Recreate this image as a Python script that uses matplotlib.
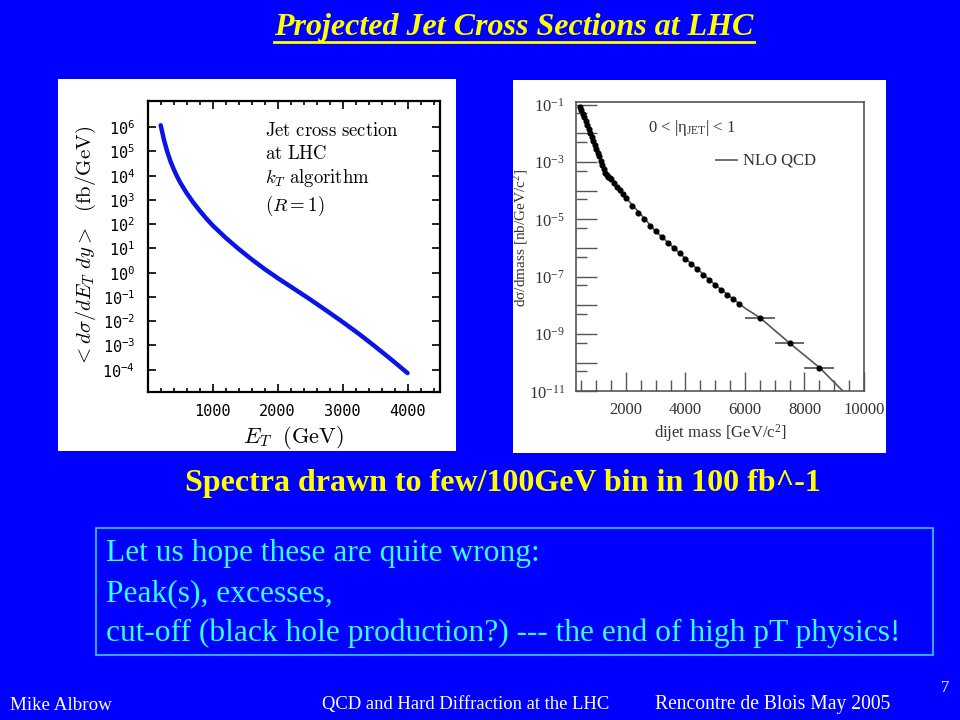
import matplotlib

matplotlib.use("Agg")
import matplotlib.pyplot as plt
from matplotlib.lines import Line2D
from matplotlib.patches import Rectangle
from matplotlib.ticker import FixedLocator, FuncFormatter, MultipleLocator, LogLocator, NullFormatter
import numpy as np

# left panel: theory curve, jet cross section vs E_T (log10 fb/GeV)
et_gev = [200, 250, 300, 350, 400, 450, 500, 600, 700, 800, 900, 1000, 1200,
          1400, 1600, 1800, 2000, 2250, 2500, 2750, 3000, 3250, 3500, 3750, 4000]
et_log_xs = [6.08, 5.48, 5.00, 4.60, 4.27, 3.98, 3.72, 3.28, 2.90, 2.56, 2.24,
             1.95, 1.44, 0.98, 0.55, 0.15, -0.22, -0.66, -1.10, -1.56, -2.03,
             -2.52, -3.04, -3.58, -4.14]

# right panel: dijet mass spectrum points (log10 nb/GeV/c^2)
mjj_pts = [450, 500, 550, 600, 650, 700, 750, 800, 850, 900, 950, 1000, 1050,
           1100, 1150, 1200, 1250, 1300, 1350, 1400, 1450, 1500, 1600, 1700,
           1800, 1900, 2000, 2200, 2400, 2600, 2800, 3000, 3200, 3400, 3600,
           3800, 4000, 4200, 4400, 4600, 4800, 5000, 5200, 5400, 5600, 5800]
mjj_log_xs = [-1.10, -1.20, -1.32, -1.45, -1.58, -1.72, -1.86, -2.00, -2.14,
              -2.28, -2.42, -2.55, -2.68, -2.81, -2.95, -3.10, -3.25, -3.40,
              -3.46, -3.51, -3.56, -3.61, -3.73, -3.86, -3.99, -4.12, -4.25,
              -4.52, -4.78, -5.00, -5.22, -5.42, -5.62, -5.82, -6.01, -6.19,
              -6.37, -6.56, -6.74, -6.93, -7.11, -7.29, -7.46, -7.63, -7.79,
              -7.94]
# wide bins at high mass with horizontal error bars
mjj_wide = [6500, 7500, 8500]
mjj_wide_log = [-8.43, -9.32, -10.17]
mjj_wide_half = [500, 500, 500]
# NLO QCD line
nlo_mass = [450, 700, 1000, 1300, 1600, 2000, 3000, 4000, 5000, 5800, 6000,
            6500, 7500, 8500, 9300]
nlo_log = [-1.10, -1.72, -2.55, -3.40, -3.73, -4.25, -5.42, -6.37, -7.29,
           -7.94, -8.10, -8.43, -9.32, -10.17, -11.0]

title = "Projected Jet Cross Sections at LHC"
subtitle = "Spectra drawn to few/100GeV bin in 100 fb^-1"
box_lines = ["Let us hope these are quite wrong:",
             "Peak(s), excesses,",
             "cut-off (black hole production?) --- the end of high pT physics!"]
footer = ["Mike Albrow", "QCD and Hard Diffraction at the LHC",
          "Rencontre de Blois May 2005"]

BLUE = "#0000ff"
W, H = 960, 720

fig = plt.figure(figsize=(9.6, 7.2), dpi=100, facecolor=BLUE)


def fx(px):
    return px / W


def fy(py):
    return 1 - py / H


def panel(x0, y0, x1, y1):
    fig.add_artist(Rectangle((fx(x0), fy(y1)), fx(x1 - x0), (y1 - y0) / H,
                             transform=fig.transFigure, facecolor="white",
                             edgecolor="none", zorder=-10))


panel(58, 79, 456, 451)
panel(513, 80, 886, 453)

# ---- left plot ----
axl = fig.add_axes([fx(147.7), fy(392), fx(440 - 147.7), (392 - 101) / H])
axl.plot(et_gev, np.power(10.0, et_log_xs), color="#0a14e6", lw=3.2,
         solid_capstyle="round")
axl.set_yscale("log")
axl.set_xlim(0, 4500)
axl.set_ylim(10 ** -4.92, 10 ** 7.08)
axl.xaxis.set_major_locator(FixedLocator([1000, 2000, 3000, 4000]))
axl.xaxis.set_minor_locator(MultipleLocator(200))
axl.yaxis.set_major_locator(FixedLocator([10.0 ** k for k in range(-4, 7)]))
axl.yaxis.set_minor_locator(LogLocator(base=10, subs=np.arange(2, 10)))
axl.yaxis.set_minor_formatter(NullFormatter())
axl.yaxis.set_major_formatter(FuncFormatter(
    lambda v, p: r"$\mathregular{10^{%d}}$" % round(np.log10(v))))
axl.tick_params(which="both", direction="in", top=True, right=True,
                width=1.2, colors="black")
axl.tick_params(which="major", length=6, pad=9)
axl.tick_params(which="minor", length=3)
for lab in axl.get_xticklabels() + axl.get_yticklabels():
    lab.set_family("DejaVu Sans Mono")
    lab.set_fontsize(11)
for s in axl.spines.values():
    s.set_linewidth(1.6)
axl.set_ylabel(r"$<d\sigma/dE_T\ dy>\ \ \mathrm{(fb/GeV)}$", fontsize=15,
               math_fontfamily="cm", labelpad=3)
axl.set_xlabel(r"$E_T\ \ \mathrm{(GeV)}$", fontsize=16, math_fontfamily="cm",
               labelpad=3)
axl.text(0.4, 0.93,
         r"$\mathrm{Jet\ cross\ section}$" "\n" r"$\mathrm{at\ LHC}$" "\n"
         r"$k_T\ \mathrm{algorithm}$" "\n" r"$(R=1)$",
         transform=axl.transAxes, fontsize=13.5, math_fontfamily="cm",
         va="top", ha="left", linespacing=1.25)

# ---- right plot ----
axr = fig.add_axes([fx(576), fy(391.3), fx(864 - 576), (391.3 - 102.3) / H])
axr.plot(nlo_mass, np.power(10.0, nlo_log), color="#555555", lw=1.2, zorder=2)
axr.errorbar(mjj_wide, np.power(10.0, mjj_wide_log), xerr=mjj_wide_half,
             fmt="o", color="black", ms=3.4, ecolor="#666666", elinewidth=1.4,
             capsize=0, zorder=3)
axr.plot(mjj_pts, np.power(10.0, mjj_log_xs), "o", color="black", ms=3.4,
         zorder=3)
axr.set_yscale("log")
axr.set_xlim(320, 10000)
axr.set_ylim(1e-11, 10 ** -0.92)
axr.xaxis.set_major_locator(FixedLocator([2000, 4000, 6000, 8000, 10000]))
axr.xaxis.set_minor_locator(MultipleLocator(500))
axr.yaxis.set_major_locator(FixedLocator([10.0 ** k for k in range(-11, 0)]))
axr.yaxis.set_minor_locator(FixedLocator([5 * 10.0 ** k for k in range(-12, -1)]))
axr.yaxis.set_minor_formatter(NullFormatter())
axr.yaxis.set_major_formatter(FuncFormatter(
    lambda v, p: (r"$\mathregular{10^{%d}}$" % round(np.log10(v)))
    if round(np.log10(v)) % 2 else ""))
axr.tick_params(which="both", direction="in", top=False, right=False,
                width=1.0, colors="#555555", labelcolor="#333333")
axr.tick_params(which="major", length=15, pad=8)
axr.tick_params(which="minor", length=8)
axr.tick_params(axis="x", which="major", length=14, pad=8)
for lab in axr.get_xticklabels() + axr.get_yticklabels():
    lab.set_family("Liberation Serif")
    lab.set_fontsize(12)
for s in axr.spines.values():
    s.set_linewidth(1.2)
    s.set_color("#555555")
axr.set_xlabel(r"dijet mass [GeV/$\mathregular{c^2}$]", family="Liberation Serif",
               fontsize=12, color="#333333", labelpad=3)
axr.set_ylabel(r"d$\mathregular{\sigma}$/dmass [nb/GeV/$\mathregular{c^2}$]",
               family="Liberation Serif", fontsize=11, color="#333333")
axr.yaxis.set_label_coords(-0.16, 0.53)
axr.text(0.25, 0.91, r"0 < |$\mathregular{\eta_{JET}}$| < 1",
         transform=axr.transAxes, family="Liberation Serif", fontsize=12,
         color="#333333", va="center")
axr.add_line(Line2D([0.485, 0.56], [0.80, 0.80], transform=axr.transAxes,
                    color="#555555", lw=1.2))
axr.text(0.58, 0.80, "NLO QCD", transform=axr.transAxes,
         family="Liberation Serif", fontsize=12, color="#333333", va="center")

# ---- slide texts ----
t = fig.text(fx(514), fy(27), title, ha="center", va="center", color="#ffff00",
             family="Liberation Serif", fontsize=23, weight="bold",
             style="italic")
fig.canvas.draw()
bb = t.get_window_extent().transformed(fig.transFigure.inverted())
fig.add_artist(Line2D([bb.x0, bb.x1], [fy(41.5), fy(41.5)],
                      transform=fig.transFigure, color="#ffff00", lw=2))

fig.text(fx(503), fy(483), subtitle, ha="center", va="center", color="#ffff00",
         family="Liberation Serif", fontsize=23, weight="bold")

fig.add_artist(Rectangle((fx(96), fy(655)), fx(933 - 96), (655 - 528) / H,
                         transform=fig.transFigure, facecolor="none",
                         edgecolor="#33ccff", lw=1.2))
for i, line in enumerate(box_lines):
    fig.text(fx(106), fy(554 + 39.5 * i), line, ha="left", va="center",
             color="#33ffff", family="Liberation Serif", fontsize=22.7)

fig.text(fx(10), fy(705), footer[0], ha="left", va="center", color="white",
         family="Liberation Serif", fontsize=13.7)
fig.text(fx(322), fy(705), footer[1], ha="left", va="center", color="white",
         family="Liberation Serif", fontsize=13.4)
fig.text(fx(655), fy(705), footer[2], ha="left", va="center", color="white",
         family="Liberation Serif", fontsize=14.1)
fig.text(fx(945), fy(688), "7", ha="center", va="center", color="white",
         family="Liberation Serif", fontsize=12)

fig.savefig("out.png", dpi=100, facecolor=BLUE)
